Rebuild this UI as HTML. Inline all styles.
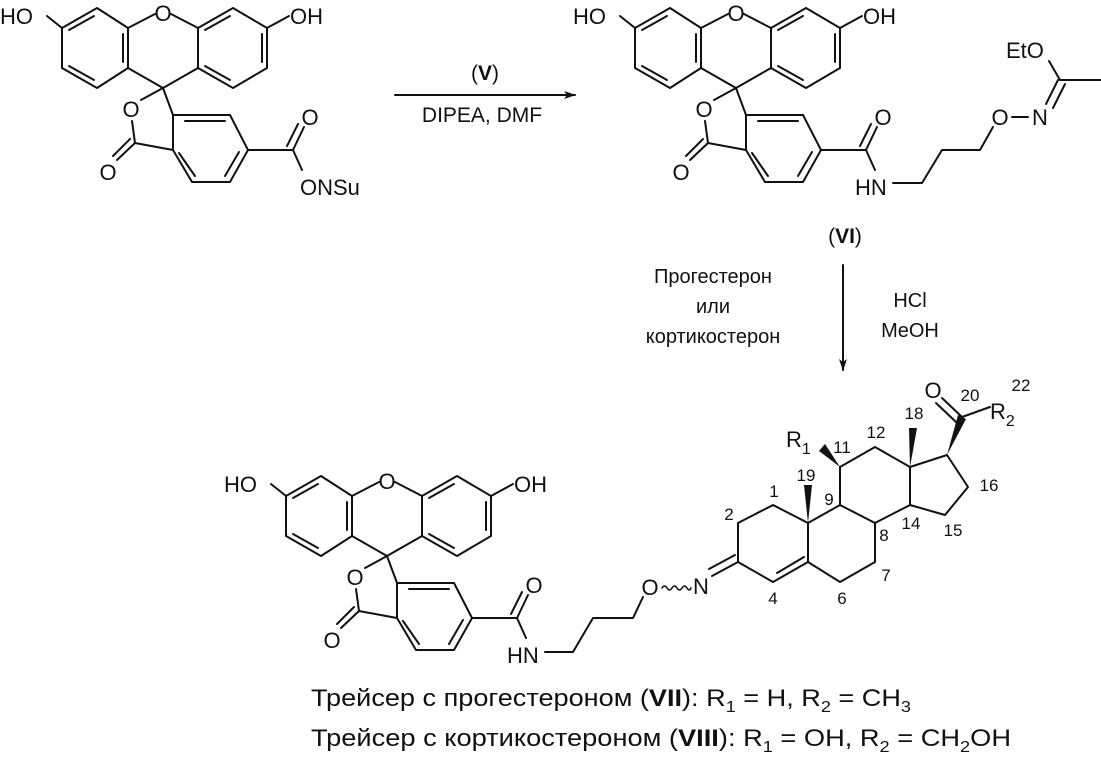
<!DOCTYPE html>
<html><head><meta charset="utf-8"><style>
html,body{margin:0;padding:0;background:#fff;}
svg{display:block;}
text{font-family:"Liberation Sans",sans-serif;fill:#111;}
</style></head><body>
<svg width="1101" height="760" viewBox="0 0 1101 760" xmlns="http://www.w3.org/2000/svg">
<defs>
<marker id="ah" markerWidth="12" markerHeight="8" refX="11" refY="4" orient="auto" markerUnits="userSpaceOnUse"><path d="M0,0 L12,4 L0,8 L3,4 Z" fill="#111"/></marker>
</defs>
<g stroke="#111" stroke-width="2" fill="none" stroke-linecap="round" stroke-linejoin="round">
<g id="f1">
<polyline points="62,28 97,8 128,28 128,68 97,88 62,68 62,28"/>
<polyline points="198,28 233,8 267,28 267,68 233,88 198,68 198,28"/>
<line x1="69" y1="30" x2="94" y2="16"/><line x1="123" y1="34" x2="123" y2="62"/><line x1="94" y1="80" x2="69" y2="66"/>
<line x1="205" y1="30" x2="230" y2="16"/><line x1="262" y1="34" x2="262" y2="62"/><line x1="230" y1="80" x2="205" y2="66"/>
<line x1="47" y1="16" x2="62" y2="28"/><line x1="128" y1="28" x2="155" y2="14"/><line x1="171" y1="14" x2="198" y2="28"/><line x1="267" y1="28" x2="289" y2="16"/>
<line x1="128" y1="68" x2="163" y2="88"/><line x1="198" y1="68" x2="163" y2="88"/>
<line x1="163" y1="88" x2="141" y2="100"/><line x1="132" y1="121" x2="135" y2="143"/>
<line x1="135" y1="143" x2="173" y2="150"/>
<line x1="135" y1="143" x2="117" y2="160"/><line x1="130" y1="139" x2="113" y2="156"/>
<line x1="163" y1="88" x2="173" y2="115"/>
<polyline points="173,115 230,115 248,150 230,182 192,182 173,150 173,115"/>
<line x1="185" y1="121" x2="225" y2="121"/><line x1="239" y1="152" x2="225" y2="176"/><line x1="179" y1="153" x2="195" y2="176"/>
<line x1="248" y1="150" x2="293" y2="150"/>
<line x1="293" y1="150" x2="304" y2="127"/><line x1="287" y1="146" x2="298" y2="124"/>
<line x1="293" y1="150" x2="302" y2="170"/>
</g>
<g transform="translate(573,0)"><use href="#f1"/></g>
<g transform="translate(224,468)"><use href="#f1"/></g>
<polyline points="893,183 922,183 942,150 980,150 993,127"/>
<line x1="1012" y1="117" x2="1028" y2="117"/>
<line x1="1046" y1="104" x2="1058" y2="80"/><line x1="1053" y1="108" x2="1065" y2="84"/>
<line x1="1060" y1="80" x2="1101" y2="80"/><line x1="1060" y1="80" x2="1049" y2="61"/>
<polyline points="545,652 573,652 593,618 633,618 643,597"/>
<path d="M662,588 q2.5,-4 5,0 t5,0 t5,0 t5,0 t5,0 t4,0" stroke-width="1.6"/>
<line x1="712" y1="576" x2="738" y2="562"/><line x1="709" y1="569" x2="735" y2="555"/>
<polyline points="738,562 738,523 773,505 808,523 808,562 773,582 738,562"/>
<line x1="777" y1="573" x2="804" y2="557"/>
<polyline points="808,562 840,582 875,562 875,523 840,505 808,523"/>
<polyline points="840,505 840,467 875,447 910,467 910,505 875,523"/>
<polyline points="910,505 945,515 968,487 947,455 910,467"/>
<line x1="962" y1="417" x2="990" y2="407"/>
<line x1="962" y1="417" x2="942" y2="398"/><line x1="956" y1="422" x2="936" y2="403"/>
<line x1="395" y1="95" x2="575" y2="95" marker-end="url(#ah)"/>
<line x1="843" y1="265" x2="843" y2="370" marker-end="url(#ah)"/>
</g>
<g fill="#111" stroke="none">
<polygon points="840,467 819,451 825,444"/>
<polygon points="808,523 804,485 812,485"/>
<polygon points="910,467 909,428 917,428"/>
<polygon points="947,455 958,415 966,419"/>
</g>
<g font-size="22">
<g id="t1">
<text x="0" y="24">HO</text><text x="163" y="21" text-anchor="middle">O</text><text x="290" y="24">OH</text>
<text x="131" y="117" text-anchor="middle">O</text><text x="108" y="180" text-anchor="middle">O</text>
<text x="310" y="125" text-anchor="middle">O</text>
</g>
<g transform="translate(573,0)"><use href="#t1"/></g>
<g transform="translate(224,468)"><use href="#t1"/></g>
<text x="300" y="195">ONSu</text>
<text x="855" y="195">HN</text>
<text x="507" y="663">HN</text>
<text x="1000" y="125" text-anchor="middle">O</text>
<text x="1040" y="125" text-anchor="middle">N</text>
<text x="1006" y="58">EtO</text>
<text x="650" y="595" text-anchor="middle">O</text>
<text x="701" y="594" text-anchor="middle">N</text>
<text x="933" y="398" text-anchor="middle">O</text>
<text x="990" y="419">R<tspan font-size="16" dy="7">2</tspan></text>
<text x="786" y="447">R<tspan font-size="16" dy="7">1</tspan></text>
<text x="485" y="80" text-anchor="middle" font-size="21">(<tspan font-weight="bold">V</tspan>)</text>
<text x="482" y="122" text-anchor="middle" font-size="21">DIPEA, DMF</text>
<text x="845" y="243" text-anchor="middle" font-size="21">(<tspan font-weight="bold">VI</tspan>)</text>
<g font-size="20" text-anchor="middle">
<text x="713" y="283">Прогестерон</text>
<text x="713" y="313">или</text>
<text x="713" y="343">кортикостерон</text>
</g>
<g font-size="20" text-anchor="middle">
<text x="910" y="307">HCl</text>
<text x="910" y="337">MeOH</text>
</g>
<g font-size="17" text-anchor="middle">
<text x="1021" y="391">22</text><text x="970" y="401">20</text><text x="914" y="419">18</text>
<text x="842" y="453">11</text><text x="876" y="438">12</text><text x="806" y="481">19</text>
<text x="774" y="497">1</text><text x="729" y="520">2</text><text x="829" y="505">9</text>
<text x="884" y="541">8</text><text x="911" y="529">14</text><text x="953" y="536">15</text>
<text x="989" y="491">16</text><text x="886" y="581">7</text><text x="842" y="604">6</text><text x="773" y="604">4</text>
</g>
<text x="311" y="706" font-size="24" textLength="600" lengthAdjust="spacingAndGlyphs">Трейсер с прогестероном (<tspan font-weight="bold">VII</tspan>): R<tspan font-size="16" dy="6">1</tspan><tspan dy="-6"> = H,  R</tspan><tspan font-size="16" dy="6">2</tspan><tspan dy="-6"> = CH</tspan><tspan font-size="16" dy="6">3</tspan></text>
<text x="311" y="746" font-size="24" textLength="700" lengthAdjust="spacingAndGlyphs">Трейсер с кортикостероном (<tspan font-weight="bold">VIII</tspan>): R<tspan font-size="16" dy="6">1</tspan><tspan dy="-6"> = OH,  R</tspan><tspan font-size="16" dy="6">2</tspan><tspan dy="-6"> = CH</tspan><tspan font-size="16" dy="6">2</tspan><tspan dy="-6">OH</tspan></text>
</g>
</svg>
</body></html>
